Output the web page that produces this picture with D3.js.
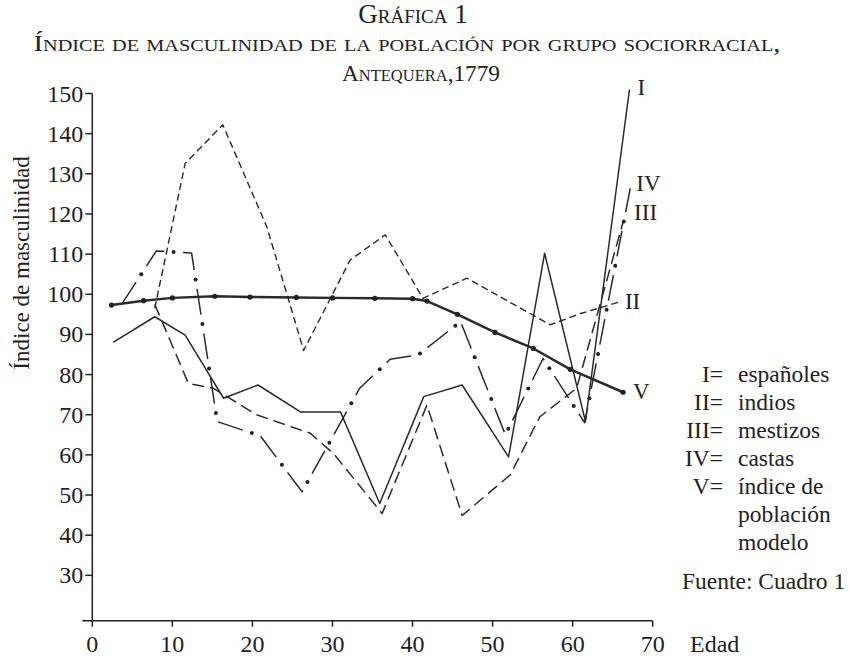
<!DOCTYPE html>
<html>
<head>
<meta charset="utf-8">
<script src="https://cdn.jsdelivr.net/npm/d3@7"></script>
<style>
  body { margin: 0; background: #fff; }
  svg { font-family: "Liberation Serif", "DejaVu Serif", serif; fill: #222; }
</style>
</head>
<body>
<div id="chart"></div>
<script>
// edad, indice
var espanoles = [[2.6, 88], [7.8, 94.4], [11.6, 89.8], [16.4, 74.1], [20.7, 77.4], [26, 70.7], [31, 70.7],
  [35.9, 47.9], [41.4, 74.5], [46.2, 77.4], [52, 59.5], [56.5, 110.2], [61.6, 68.3], [67.1, 151]];
var indios = [[7.8, 96.5], [11.6, 132.6], [16.3, 142.2], [21.8, 116.8], [26.4, 86], [32.2, 108.5],
  [36.6, 114.8], [41.3, 99], [46.8, 104], [57.2, 92.4], [61, 95.2], [65.9, 98.1]];
var mestizos = [[7.8, 97.5], [12, 77.8], [15.1, 76.6], [20.5, 70], [27.2, 65.4], [30.1, 60.4], [36.2, 45.4],
  [41.8, 72.4], [46.2, 44.9], [52.2, 55], [55.9, 69.5], [60.5, 76.6], [66.3, 118]];
var castas = [[3.7, 97.6], [8, 110.8], [12.4, 110.3], [15.6, 68.3], [21, 64.7], [26.2, 50.8], [33.4, 76.6],
  [37.2, 83.8], [40.7, 84.9], [46, 93.2], [51.6, 65], [56.3, 84], [59, 75.7], [61.5, 68], [67.2, 126.4]];
var modelo = [[2.4, 97.3], [6.4, 98.4], [10, 99.1], [15.3, 99.5], [19.7, 99.3], [25.5, 99.2], [30, 99.1],
  [35.3, 99], [40, 98.9], [41.8, 98.3], [45.6, 95], [50.3, 90.5], [55.1, 86.5], [59.7, 81.3], [66.3, 75.6]];

var seriesNames = ['I', 'II', 'III', 'IV', 'V'];
var legendKeys = ['I=', 'II=', 'III=', 'IV=', 'V='];
var legendTexts = ['españoles', 'indios', 'mestizos', 'castas', 'índice de', 'población', 'modelo'];
var xTicks = [0, 10, 20, 30, 40, 50, 60, 70];
var yTicks = [30, 40, 50, 60, 70, 80, 90, 100, 110, 120, 130, 140, 150];

var W = 850, H = 656;
var svg = d3.select('#chart').append('svg').attr('width', W).attr('height', H);

var x = d3.scaleLinear().domain([0, 70]).range([92.3, 652.7]);
var y = d3.scaleLinear().domain([18.7, 150]).range([620.7, 93.5]);

// titulo
var title = svg.append('g').attr('text-anchor', 'middle').style('font-variant', 'small-caps');
title.append('text').attr('x', 413).attr('y', 23).attr('font-size', 27).text('Gráfica 1');
title.append('text').attr('x', 407).attr('y', 51).attr('font-size', 24)
  .attr('textLength', 747).attr('lengthAdjust', 'spacingAndGlyphs')
  .text('Índice de masculinidad de la población por grupo sociorracial,');
title.append('text').attr('x', 421).attr('y', 81).attr('font-size', 24)
  .attr('textLength', 158).attr('lengthAdjust', 'spacingAndGlyphs').text('Antequera,1779');

// ejes
var ax = svg.append('g').attr('stroke', '#222').attr('stroke-width', 1.5);
ax.append('line').attr('x1', x(0)).attr('x2', x(0)).attr('y1', y(150)).attr('y2', y(18.7));
ax.append('line').attr('x1', x(0) - 10).attr('x2', x(70)).attr('y1', y(18.7)).attr('y2', y(18.7));
ax.selectAll('.yt').data(yTicks).enter().append('line')
  .attr('x1', x(0) - 7).attr('x2', x(0)).attr('y1', d => y(d)).attr('y2', d => y(d));
ax.selectAll('.xt').data(xTicks).enter().append('line')
  .attr('x1', d => x(d)).attr('x2', d => x(d)).attr('y1', y(18.7)).attr('y2', y(18.7) + 6);

svg.append('g').selectAll('text').data(yTicks).enter().append('text')
  .attr('x', x(0) - 9).attr('y', d => y(d) + 8).attr('text-anchor', 'end').attr('font-size', 24)
  .text(d => d);
svg.append('g').selectAll('text').data(xTicks).enter().append('text')
  .attr('x', d => x(d)).attr('y', 652).attr('text-anchor', 'middle').attr('font-size', 24)
  .text(d => d);
svg.append('text').attr('x', 690).attr('y', 652).attr('font-size', 24).text('Edad');
svg.append('text').attr('transform', 'translate(29,263) rotate(-90)').attr('text-anchor', 'middle')
  .attr('font-size', 23).text('Índice de masculinidad');

// series
var line = d3.line().x(d => x(d[0])).y(d => y(d[1]));
var series = [
  { name: 'I', data: espanoles, w: 1.5, dash: null, lx: 8, ly: 6 },
  { name: 'II', data: indios, w: 1.4, dash: '7,4', lx: 5, ly: 7 },
  { name: 'III', data: mestizos, w: 1.5, dash: '12,6', lx: 11, ly: -2 },
  { name: 'IV', data: castas, w: 1.5, dash: '26,19', lx: 6, ly: 3 },
  { name: 'V', data: modelo, w: 2.5, dash: null, lx: 10, ly: 7 }
];

var g = svg.append('g').attr('fill', 'none').attr('stroke', '#2a2a2a');
series.forEach(function (s) {
  var p = g.append('path').attr('d', line(s.data)).attr('stroke-width', s.w)
    .attr('stroke-linejoin', 'round');
  if (s.dash) p.attr('stroke-dasharray', s.dash);
  if (s.name === 'IV') {
    // puntos del trazo raya-punto
    var node = p.node(), len = node.getTotalLength();
    for (var l = 35.5; l < len; l += 45) {
      var pt = node.getPointAtLength(l);
      svg.append('circle').attr('cx', pt.x).attr('cy', pt.y).attr('r', 2).attr('fill', '#222');
    }
  }
  var last = s.data[s.data.length - 1];
  svg.append('text').attr('x', x(last[0]) + s.lx).attr('y', y(last[1]) + s.ly)
    .attr('font-size', 23).text(s.name);
});

svg.append('g').selectAll('circle').data(modelo).enter().append('circle')
  .attr('cx', d => x(d[0])).attr('cy', d => y(d[1])).attr('r', 2.6).attr('fill', '#222');

// leyenda
var leg = svg.append('g').attr('font-size', 23.5);
leg.selectAll('.k').data(legendKeys).enter().append('text')
  .attr('x', 723).attr('y', (d, i) => 382 + i * 28).attr('text-anchor', 'end').text(d => d);
leg.selectAll('.t').data(legendTexts).enter().append('text')
  .attr('x', 738).attr('y', (d, i) => 382 + i * 28).text(d => d);
leg.append('text').attr('x', 682).attr('y', 589).text('Fuente: Cuadro 1');
</script>
</body>
</html>
